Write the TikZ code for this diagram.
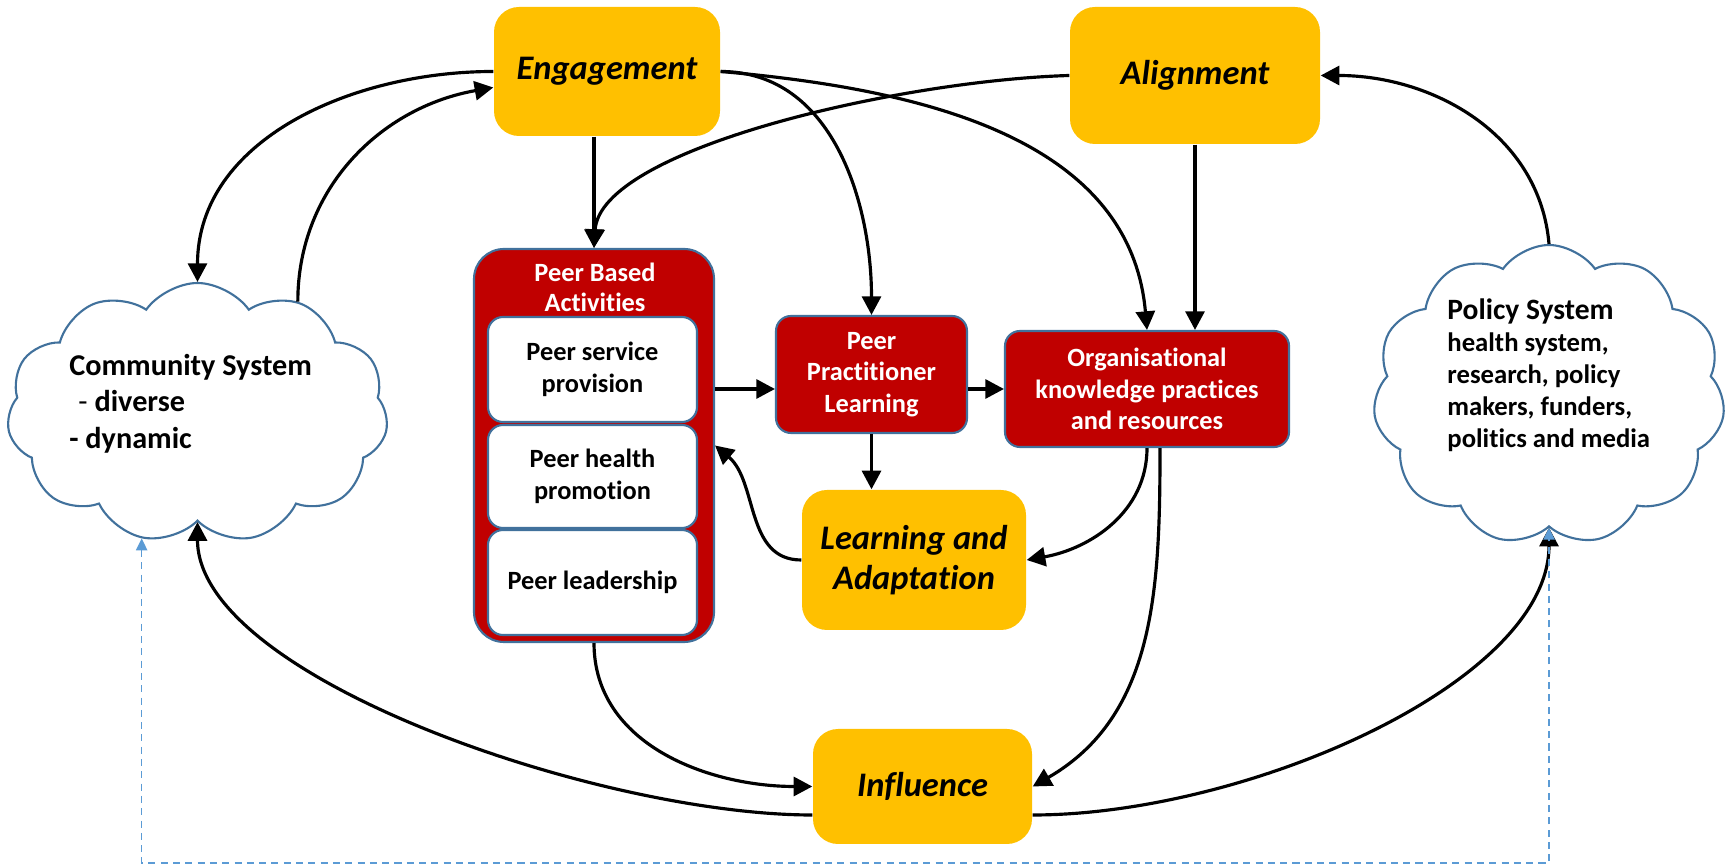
\documentclass[tikz,border=0pt]{standalone}
\usepackage{fontspec}
\setmainfont{Carlito}[Ligatures={NoCommon}, RawFeature=-calt]
\usepackage{tikz}
\usetikzlibrary{arrows.meta, shapes.symbols}

\definecolor{stageyellow}{HTML}{FFC000}
\definecolor{actred}{HTML}{C00000}
\definecolor{edgeblue}{HTML}{41719C}
\definecolor{dashblue}{HTML}{5B9BD5}

\begin{document}
\begin{tikzpicture}[
    >={Triangle[length=5.3pt, width=5.4pt]},
    link/.style={line width=0.9pt, ->},
    stage/.style={fill=stageyellow, rounded corners=0.25cm, align=center,
        font=\bfseries\itshape\fontsize{9.8}{11.4}\selectfont},
    actbox/.style={fill=actred, draw=edgeblue, line width=0.6pt, rounded corners=0.15cm,
        align=center, text=white, font=\bfseries\fontsize{7.5}{8.9}\selectfont},
    acttitle/.style={align=center, text=white, font=\bfseries\fontsize{7.5}{8.6}\selectfont},
    peerbox/.style={fill=white, draw=edgeblue, line width=0.6pt, rounded corners=0.15cm,
        minimum width=2.09cm, align=center, font=\bfseries\fontsize{7.5}{9.1}\selectfont},
    system/.style={cloud, cloud puffs=11, cloud puff arc=110, cloud ignores aspect,
        draw=edgeblue, fill=white, line width=0.6pt, inner sep=0pt},
    systext/.style={align=left, anchor=west, font=\bfseries\fontsize{8.6}{10.4}\selectfont},
    dashlink/.style={draw=dashblue, line width=0.45pt, dash pattern=on 2pt off 1.5pt,
        >={Triangle[length=3.4pt, width=3.2pt]}, <->}
]
    \useasboundingbox (0, 0) rectangle (17.35, -8.67);

    % systems
    \node[system, minimum width=3.81cm, minimum height=2.6cm] at (1.975, -4.13) (comm) {};
    \node[system, minimum width=3.52cm, minimum height=3.0cm] at (15.49, -3.95) (pol) {};
    \node[systext] at (0.57, -4.035) (commtext) {Community System\\\hspace{0.3em}\textmd{-} diverse\\- dynamic};
    \node[systext, font=\bfseries\fontsize{7.6}{9.1}\selectfont] at (14.35, -3.75) (poltext) {{\fontsize{8.4}{9.1}\selectfont Policy System}\\health system,\\research, policy\\makers, funders,\\politics and media};

    % stages
    \node[stage, minimum width=2.26cm, minimum height=1.29cm] at (6.07, -0.715) (eng) {Engagement};
    \node[stage, minimum width=2.5cm, minimum height=1.37cm] at (11.95, -0.755) (align) {Alignment};
    \node[stage, minimum width=2.24cm, minimum height=1.4cm] at (9.14, -5.6) (la) {Learning and\\Adaptation};
    \node[stage, minimum width=2.19cm, minimum height=1.15cm] at (9.225, -7.865) (infl) {Influence};

    % peer activities
    \node[actbox, minimum width=2.4cm, minimum height=3.93cm, rounded corners=0.3cm] at (5.94, -4.455) (pba) {};
    \node[acttitle] at (5.95, -2.87) (pbatitle) {Peer Based\\Activities};
    \node[peerbox, minimum height=1.05cm] at (5.925, -3.695) (serv) {Peer service\\provision};
    \node[peerbox, minimum height=1.03cm] at (5.925, -4.765) (health) {Peer health\\promotion};
    \node[peerbox, minimum height=1.05cm] at (5.925, -5.825) (lead) {Peer leadership};
    \node[actbox, minimum width=1.91cm, minimum height=1.17cm] at (8.715, -3.745) (ppl) {Peer\\Practitioner\\Learning};
    \node[actbox, minimum width=2.84cm, minimum height=1.16cm] at (11.47, -3.89) (okr) {Organisational\\knowledge practices\\and resources};

    \coordinate (dashbase) at (8.5, -8.63);

    \draw[link] (eng.west) to[out=180, in=90] (comm.90);
    \draw[link] (comm.48) to[out=90, in=190] (eng.188);
    \draw[link] (eng.south -| pba.north) -- (pba.north);
    \draw[link] (align.west) .. controls +(-1.7, -0.05) and +(0.06, 0.99) .. (pba.north);
    \draw[link] (eng.east) to[out=0, in=90] (ppl.north);
    \draw[link] (eng.east) to[out=-5, in=95] (okr.north);
    \draw[link] (align.south) -- (align.south |- okr.north);
    \draw[link] (pol.90) to[out=95, in=0] (align.east);
    \draw[link] (pba.east |- okr.west) -- (ppl.west |- okr.west);
    \draw[link] (ppl.east |- okr.west) -- (okr.west);
    \draw[link] (ppl.south) -- (ppl.south |- la.north);
    \draw[link] (okr.south) to[out=-90, in=10] (la.east);
    \draw[link] ([xshift=0.13cm]okr.south) to[out=-90, in=30] (infl.east);
    \draw[link] (la.west) to[out=180, in=-40] (pba.east);
    \draw[link] (pba.south) to[out=-90, in=180] (infl.west);
    \draw[link] ([yshift=-0.285cm]infl.west) .. controls +(-2.13, 0) and +(0, -1.55) .. (comm.-90);
    \draw[link] ([yshift=-0.285cm]infl.east) .. controls +(2.13, 0) and +(0, -1.55) .. (pol.-90);
    \draw[dashlink] (comm.-114) -- (comm.-114 |- dashbase) -| (pol.-90);
\end{tikzpicture}
\end{document}
